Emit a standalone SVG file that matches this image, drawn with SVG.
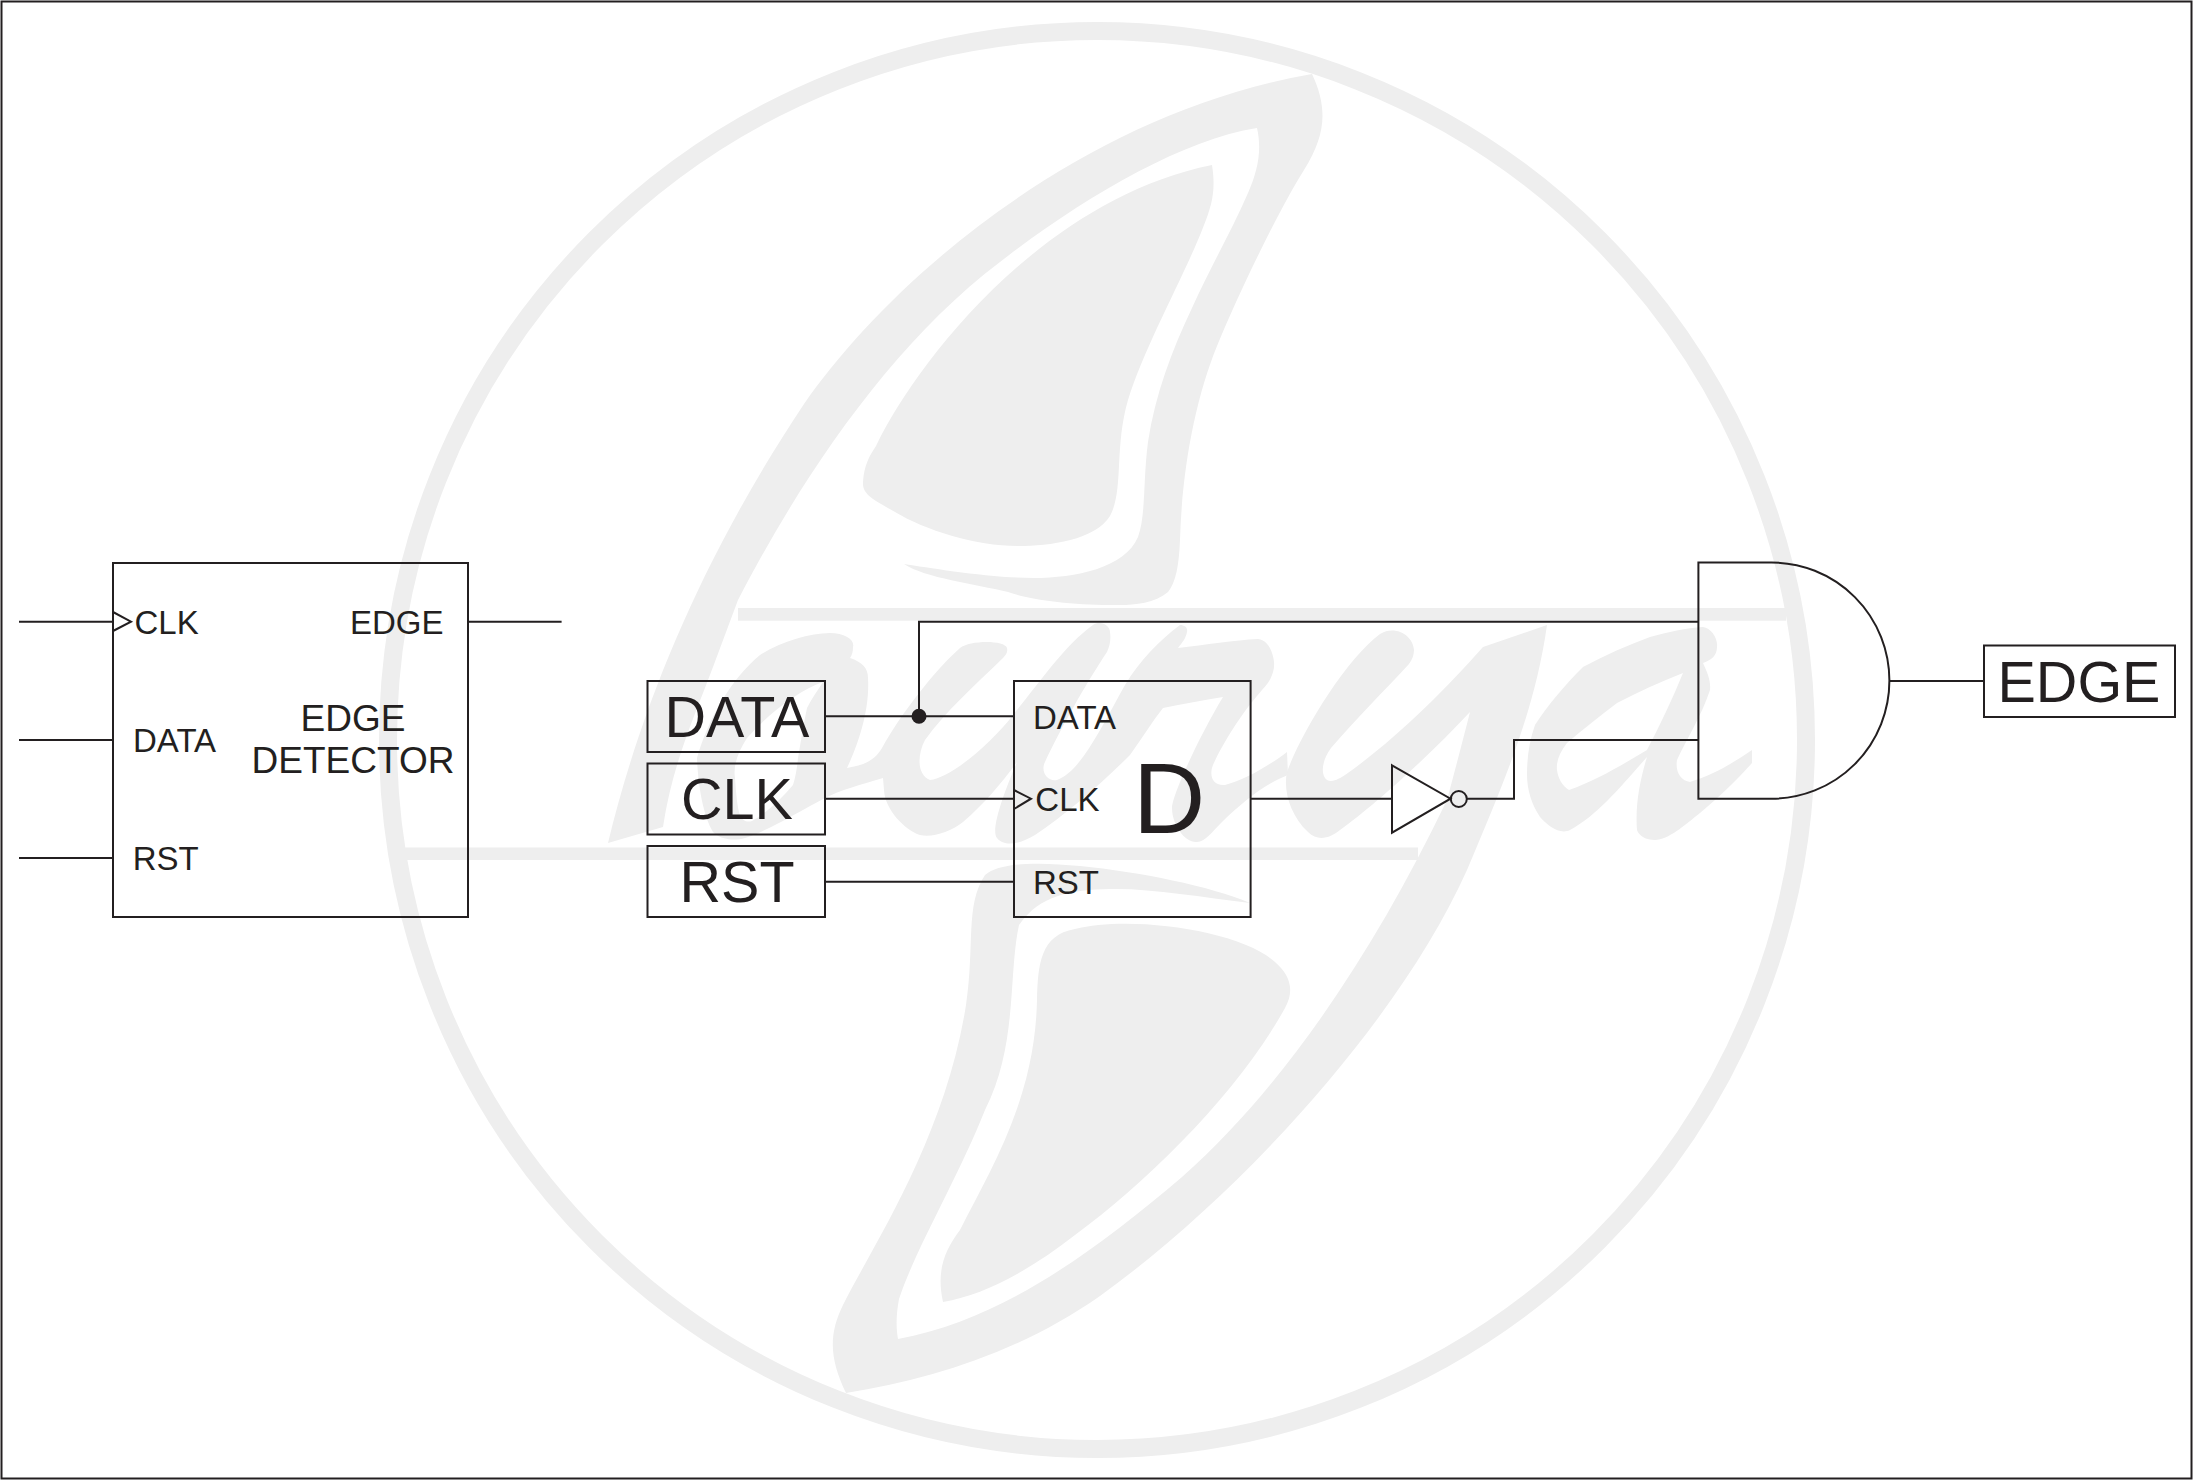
<svg xmlns="http://www.w3.org/2000/svg" width="2193" height="1480" viewBox="0 0 2193 1480">
<style>
.wm{fill:#eeeeee;stroke:none}
.ln{fill:none;stroke:#231f20;stroke-width:2;stroke-linejoin:miter}
text{font-family:"Liberation Sans",Arial,sans-serif;fill:#231f20}
.s{font-size:33px}
.m{font-size:37px;text-anchor:middle}
.b{font-size:57.5px;text-anchor:middle}
</style>
<rect width="2193" height="1480" fill="#ffffff"/>
<g id="watermark">
<circle cx="1097" cy="740" r="709" fill="none" stroke="#eeeeee" stroke-width="18"/>
<rect class="wm" x="738" y="608" width="1048" height="12.7"/>
<rect class="wm" x="403" y="847.5" width="1015" height="12.5"/>
<path class="wm" d="M608 843C640 710 700 560 804 404C890 280 1080 115 1312 74C1328 108 1326 135 1304 170C1280 208 1240 290 1217 346C1195 400 1182 470 1180 540C1179 565 1176 582 1168 592C1155 603 1135 605 1120 605C1075 606 1030 600 1008 592C975 584 925 578 904 564C930 568 990 578 1034 578C1075 578 1125 568 1138 537C1146 515 1143 480 1148 442C1155 395 1172 350 1192 308C1210 268 1232 230 1248 193C1258 170 1262 150 1257 128C1180 140 1080 200 1000 262C890 345 800 480 738 600L713 667C695 715 672 765 663 827Z"/>
<path class="wm" d="M1212 165C1216 190 1212 205 1204 225C1185 275 1145 345 1128 400C1114 448 1124 490 1110 516C1095 540 1050 546 1018 546C975 546 925 530 895 512C875 500 862 495 863 482C864 465 870 455 876 446C915 365 1040 200 1212 165Z"/>
<path class="wm" d="M943 1302C936 1270 945 1250 960 1230C990 1170 1035 1100 1037 1000C1038 965 1040 935 1075 929C1130 915 1240 930 1275 962C1290 975 1295 990 1285 1008C1240 1090 1150 1180 1075 1235C1030 1270 985 1295 943 1302Z"/>
<path class="wm" d="M846 1393C830 1360 828 1335 843 1305C870 1250 945 1140 966 1005C975 945 965 905 985 875C1000 862 1040 862 1080 866C1140 872 1210 886 1250 903C1200 897 1150 888 1110 889C1070 890 1040 895 1019 925C1008 975 1018 1045 985 1110C958 1178 915 1250 899 1299C896 1315 896 1328 898 1339C1000 1320 1090 1255 1182 1177C1280 1090 1370 960 1447 800C1455 770 1463 740 1470 712C1430 755 1375 805 1340 830C1330 838 1318 842 1308 832C1290 815 1283 790 1287 772C1300 735 1345 660 1380 634C1395 625 1413 635 1414 650C1414 655 1412 660 1409 664C1385 690 1355 720 1331 748C1322 760 1320 775 1327 780C1333 783 1340 778 1345 775C1395 740 1445 690 1483 647L1547 625C1535 710 1505 780 1467 870C1400 1020 1240 1195 1100 1296C1020 1352 930 1380 846 1393Z"/>
<path class="wm" fill-rule="evenodd" d="M830 633C845 633 855 640 853 647C853 652 852 655 850 658C862 662 868 668 868 678C870 710 858 745 847 768C865 765 875 760 882 748C900 715 935 670 960 648C970 640 1005 640 1007 648C1008 652 1006 655 1003 658C975 685 945 712 925 740C917 755 917 775 930 780C950 778 990 745 1013 715C1040 682 1065 645 1093 625C1100 620 1110 625 1110 632C1111 640 1110 645 1107 652C1085 685 1060 730 1045 762C1040 772 1048 782 1057 780C1080 772 1100 730 1125 685C1140 660 1160 640 1180 625C1185 625 1188 628 1187 632C1186 638 1182 643 1178 648C1205 645 1235 640 1258 639C1268 640 1273 652 1274 662C1275 672 1270 682 1262 690C1240 715 1222 745 1213 765C1209 775 1212 786 1225 785C1245 780 1270 765 1287 752L1288 775C1262 785 1240 805 1222 822C1212 832 1205 842 1197 842C1185 843 1172 825 1172 808C1172 795 1200 735 1223 697C1203 700 1183 704 1163 708C1152 722 1142 738 1130 755C1100 785 1065 815 1035 835C1022 843 1005 848 997 838C990 830 1005 790 1017 762C1000 785 985 803 963 822C950 832 932 838 920 835C905 830 885 810 884 790L883 778C860 785 840 790 825 798C798 812 770 830 745 838C732 842 718 838 713 832C703 815 698 785 697 758C708 720 730 680 760 655C780 642 810 633 830 633ZM823 682C800 690 770 712 747 738C738 752 733 765 735 778C736 792 737 804 739 812C741 820 746 823 752 821C768 812 782 798 793 785C796 775 797 768 798 758C801 740 804 722 807 708C812 698 818 690 823 682Z"/>
<path class="wm" fill-rule="evenodd" d="M1703 627C1711 628 1718 638 1717 647C1717 655 1712 660 1703 663C1707 672 1711 680 1710 690C1702 715 1686 740 1677 760C1675 772 1681 781 1690 782C1713 775 1733 763 1752 750L1752 763C1735 782 1718 798 1700 813C1685 825 1668 840 1655 840C1646 840 1639 836 1637 830C1635 805 1640 780 1647 757C1622 785 1598 815 1570 830C1560 835 1548 826 1540 817C1532 805 1527 790 1527 775C1527 758 1529 742 1535 725C1548 705 1565 685 1583 667C1605 655 1628 645 1650 637C1668 632 1686 628 1703 627ZM1683 673C1660 682 1638 692 1617 703C1600 716 1583 729 1567 743C1560 752 1556 761 1557 770C1558 778 1562 786 1569 790C1597 780 1622 765 1647 750C1660 725 1672 700 1683 673Z"/>
</g>
<g id="connectors">
<path class="ln" d="M19 621.7H113M19 740H113M19 858H113M468 621.7H561.6"/>
<path class="ln" d="M825 716.3H1014M825 798.7H1014M825 881.7H1014"/>
<path class="ln" d="M919 716.3V621.7H1698.4"/>
<path class="ln" d="M1250.6 798.7H1392"/>
<path class="ln" d="M1467 798.7H1514V740H1698.4"/>
<path class="ln" d="M1889.4 681H1984"/>
</g>
<g id="frame"><rect class="ln" x="1.5" y="1.5" width="2190" height="1477"/></g>
<g id="edge-detector">
<rect class="ln" x="113" y="563" width="355" height="354"/>
<path class="ln" d="M113 612L131 621.7L113 631"/>
<text class="s" x="134.5" y="633.7">CLK</text>
<text class="s" x="133" y="751.7">DATA</text>
<text class="s" x="132.7" y="870">RST</text>
<text class="s" x="350" y="633.7">EDGE</text>
<text class="m" x="353" y="730.7">EDGE</text>
<text class="m" x="353" y="772.7">DETECTOR</text>
</g>
<g id="input-data"><rect class="ln" x="647.5" y="681" width="177.5" height="71"/><text class="b" x="737" y="736.7">DATA</text></g>
<g id="input-clk"><rect class="ln" x="647.5" y="763.5" width="177.5" height="71"/><text class="b" x="737" y="819.3">CLK</text></g>
<g id="input-rst"><rect class="ln" x="647.5" y="846" width="177.5" height="71"/><text class="b" x="737" y="901.7">RST</text></g>
<g id="junction"><circle cx="919" cy="716.3" r="7.5" fill="#231f20"/></g>
<g id="d-flipflop">
<rect class="ln" x="1014" y="681" width="236.6" height="236"/>
<path class="ln" d="M1014 790L1031 798.7L1014 809"/>
<text class="s" x="1033" y="728.7">DATA</text>
<text class="s" x="1035.3" y="810.7">CLK</text>
<text class="s" x="1033" y="893.7">RST</text>
<text x="1133" y="833.3" font-size="100">D</text>
</g>
<g id="inverter">
<path class="ln" d="M1392 765.3L1450.5 798.7L1392 832.7Z"/>
<circle class="ln" cx="1458.8" cy="799" r="8"/>
</g>
<g id="and-gate">
<path class="ln" d="M1771.4 562.5H1698.4V798.7H1771.4A118 118.1 0 0 0 1771.4 562.5Z"/>
</g>
<g id="output-edge"><rect class="ln" x="1984" y="645.5" width="191" height="71.5"/><text class="b" x="2079" y="701.7">EDGE</text></g>
</svg>
